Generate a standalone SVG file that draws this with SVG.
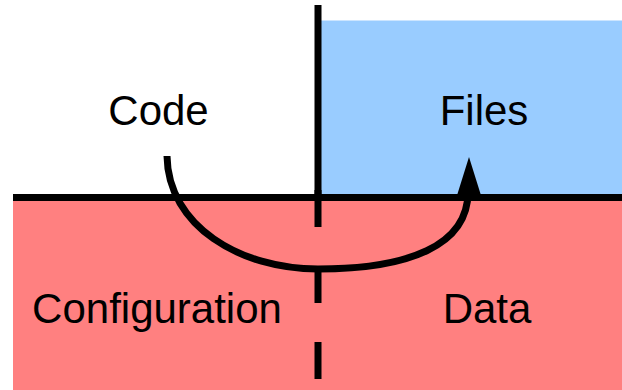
<svg xmlns="http://www.w3.org/2000/svg" width="622" height="390" viewBox="0 0 622 390">
<style>
.lbl{font-family:"Liberation Sans",Arial,sans-serif;font-size:42px;fill:#000;text-anchor:middle}
.div{stroke:#000;stroke-width:7;fill:none}
</style>
<rect width="622" height="390" fill="#fff"/>
<g id="files">
<rect x="320" y="20.5" width="302" height="177" fill="#99ccff"/>
<text class="lbl" x="484" y="125">Files</text>
</g>
<g id="lower">
<rect x="13" y="197" width="609" height="193" fill="#ff8080"/>
</g>
<g id="code">
<text class="lbl" x="158.5" y="125">Code</text>
</g>
<g id="configuration">
<text class="lbl" x="157" y="323">Configuration</text>
</g>
<g id="data">
<text class="lbl" x="487" y="323">Data</text>
</g>
<g id="dividers">
<line class="div" x1="318" y1="5" x2="318" y2="198"/>
<line class="div" x1="318" y1="190" x2="318" y2="390" stroke-dasharray="37 39"/>
<line class="div" x1="13" y1="197.5" x2="622" y2="197.5"/>
</g>
<g id="connectors">
<path class="div" d="M167,156 C168,226 240,269 318,269 C408,269 468,246 468,192"/>
<polygon points="469,157 456.5,197 481.5,197" fill="#000"/>
</g>
</svg>
